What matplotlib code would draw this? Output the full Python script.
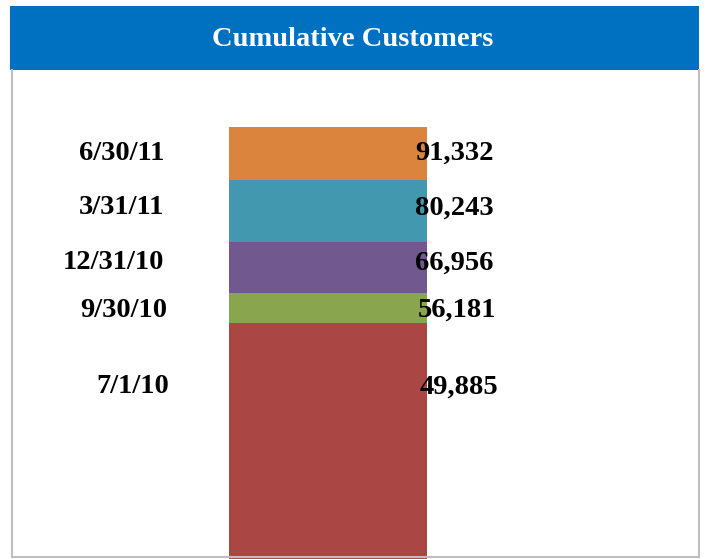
import matplotlib.pyplot as plt
from matplotlib.patches import Rectangle
from matplotlib.lines import Line2D

# Cumulative customers by quarter (bottom to top of the stack).
dates = ['7/1/10', '9/30/10', '12/31/10', '3/31/11', '6/30/11']
totals = [49885, 56181, 66956, 80243, 91332]
colors = ['#AA4643', '#89A54E', '#71588F', '#4198AF', '#DB843D']

W, H = 706, 559
fig = plt.figure(figsize=(W / 100, H / 100), dpi=100)
plt.rcParams['font.family'] = ['Liberation Serif', 'DejaVu Serif']

# Axes sits below the title bar and runs the full width.
ax = fig.add_axes([0, 0, 1, (H - 70) / H])
ax.set_xlim(-1.657, 1.909)
ax.set_ylim(0, 103400)
ax.axis('off')

# Stack the segments: each one adds what was gained since the previous date.
prev = 0
for d, t, c in zip(dates, totals, colors):
    ax.bar(0, t - prev, bottom=prev, width=1, color=c, edgecolor='none')
    prev = t

# Label positions: roughly the middle of each segment, bottom one sits higher.
prev = 0
frac = [0.73, 0.42, 0.6, 0.55, 0.5]
dx = [5, 3, 0, 0, 0]
trans = ax.get_yaxis_transform()
for i, (d, t) in enumerate(zip(dates, totals)):
    y = prev + (t - prev) * frac[i]
    ax.text((164 + dx[i]) / W, y, d, transform=trans, ha='right', va='center',
            fontsize=20.5, fontweight='bold')
    ax.text((415 + dx[i]) / W, y, f'{t:,}', transform=trans, ha='left', va='center',
            fontsize=20.5, fontweight='bold')
    prev = t

# Blue title bar.
fig.patches.append(Rectangle((10 / W, 1 - 70 / H), 689 / W, 64 / H,
                             transform=fig.transFigure, facecolor='#0070C0',
                             edgecolor='none', zorder=3))
fig.text(353 / W, 1 - 39 / H, 'Cumulative Customers', ha='center', va='center',
         color='white', fontsize=20.5, fontweight='bold', zorder=4)

# Grey frame round the plot area.
for xs, ys in [([12, 12], [70, 557]), ([699, 699], [70, 557]), ([12, 699], [557, 557])]:
    fig.lines.append(Line2D([x / W for x in xs], [1 - y / H for y in ys],
                            transform=fig.transFigure, color='#BFBFBF', lw=1.5, zorder=5))

fig.savefig('out.png', dpi=100)
